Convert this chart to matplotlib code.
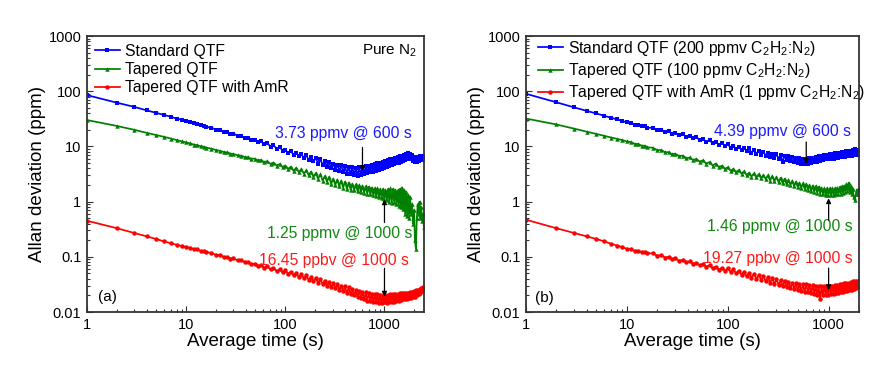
import matplotlib
matplotlib.use('Agg')
import matplotlib.pyplot as plt
from matplotlib.ticker import FixedLocator, FixedFormatter, LogLocator, NullFormatter

plt.rcParams['font.family'] = ['Liberation Sans', 'DejaVu Sans']
plt.rcParams['mathtext.fontset'] = 'custom'
plt.rcParams['mathtext.rm'] = 'Liberation Sans'
plt.rcParams['mathtext.it'] = 'Liberation Sans:italic'
plt.rcParams['mathtext.bf'] = 'Liberation Sans:bold'

# ---------------- data ----------------
tau_a = [1, 2, 3, 4, 5, 6, 7, 8, 9, 10,
         11, 12, 13, 14, 15, 16, 18, 20, 22, 24,
         26, 28, 30, 33, 36, 39, 42, 45, 49, 53,
         57, 61, 66, 71, 76, 82, 88, 94, 100, 107,
         114, 121, 129, 137, 145, 154, 163, 172, 182, 192,
         203, 214, 226, 238, 250, 263, 276, 290, 304, 319,
         334, 350, 366, 383, 400, 418, 436, 455, 474, 494,
         514, 535, 556, 578, 600, 623, 646, 670, 694, 719,
         744, 770, 796, 823, 850, 878, 906, 935, 964, 994,
         1024, 1055, 1086, 1118, 1150, 1183, 1216, 1250, 1284, 1319,
         1354, 1390, 1426, 1463, 1500, 1538, 1576, 1615, 1654, 1694,
         1734, 1775, 1816, 1858, 1900, 1943, 1986, 2030, 2074, 2119,
         2164, 2210, 2256, 2303, 2350, 2398, 2446, 2495]

std_a = [85, 62, 52, 45, 40.5, 37, 34.5, 32, 30.5, 29,
         27.8, 26.4, 25.8, 24.3, 23.9, 22.6, 21.8, 20.2, 19.9, 18.4,
         18.3, 16.9, 17.1, 15.6, 15.7, 14.2, 14.5, 13.0, 13.3, 11.9,
         12.4, 10.9, 11.5, 9.9, 10.6, 9.0, 9.8, 8.3, 8.6, 7.6,
         8.2, 7.0, 7.7, 6.6, 7.3, 6.1, 6.9, 5.7, 6.5, 5.4,
         6.1, 4.9, 5.8, 4.6, 5.5, 4.3, 5.2, 4.0, 4.9, 3.8,
         4.7, 3.6, 4.6, 3.4, 4.4, 3.2, 4.3, 3.1, 4.2, 3.0,
         4.1, 2.9, 4.2, 3.0, 4.3, 3.1, 4.4, 3.3, 4.5, 3.5,
         4.6, 3.5, 4.8, 3.6, 5.0, 3.8, 5.1, 3.9, 5.3, 4.1,
         5.4, 4.3, 5.6, 4.4, 5.8, 4.6, 6.0, 4.8, 6.2, 5.0,
         6.4, 5.1, 6.6, 5.3, 6.8, 5.5, 7.0, 5.7, 7.3, 5.9,
         7.5, 6.0, 7.3, 5.8, 6.9, 5.4, 6.4, 5.2, 6.3, 5.3,
         6.4, 5.5, 6.6, 5.6, 6.6, 5.7, 6.8, 6.0]

tap_a = [30, 23.5, 20, 17.6, 16.1, 14.9, 13.9, 13.1, 12.4, 11.8,
         11.3, 10.8, 10.5, 10.1, 9.9, 9.5, 9.1, 8.6, 8.3, 7.9,
         7.8, 7.4, 7.3, 6.9, 6.8, 6.4, 6.4, 6.0, 6.0, 5.6,
         5.7, 5.2, 5.4, 4.8, 5.1, 4.5, 4.8, 4.2, 4.5, 3.9,
         4.3, 3.6, 4.1, 3.4, 3.9, 3.2, 3.7, 3.0, 3.5, 2.8,
         3.3, 2.6, 3.1, 2.4, 2.9, 2.3, 2.8, 2.1, 2.6, 2.0,
         2.5, 1.9, 2.4, 1.8, 2.3, 1.7, 2.2, 1.65, 2.1, 1.6,
         2.05, 1.55, 2.0, 1.5, 1.95, 1.45, 1.9, 1.4, 1.85, 1.35,
         1.8, 1.3, 1.75, 1.25, 1.75, 1.2, 1.7, 1.15, 1.7, 1.1,
         1.65, 1.05, 1.7, 1.0, 1.75, 0.95, 1.7, 1.0, 1.65, 0.9,
         1.6, 0.85, 1.7, 0.8, 1.8, 0.75, 1.6, 0.6, 1.5, 0.55,
         1.3, 0.5, 1.2, 0.6, 0.9, 0.4, 0.7, 0.2, 0.14, 0.5,
         0.9, 0.6, 1.0, 0.5, 0.8, 0.45, 0.6, 0.35]

amr_a = [0.45, 0.33, 0.27, 0.235, 0.21, 0.19, 0.176, 0.165, 0.157, 0.15,
         0.146, 0.137, 0.136, 0.128, 0.128, 0.121, 0.118, 0.108, 0.108, 0.099,
         0.1, 0.093, 0.094, 0.086, 0.087, 0.08, 0.081, 0.074, 0.075, 0.069,
         0.071, 0.063, 0.067, 0.059, 0.063, 0.055, 0.059, 0.052, 0.057, 0.049,
         0.053, 0.046, 0.050, 0.043, 0.048, 0.041, 0.046, 0.038, 0.043, 0.036,
         0.041, 0.034, 0.039, 0.032, 0.037, 0.030, 0.035, 0.028, 0.033, 0.027,
         0.032, 0.025, 0.030, 0.024, 0.029, 0.022, 0.028, 0.021, 0.026, 0.020,
         0.025, 0.019, 0.024, 0.018, 0.023, 0.017, 0.023, 0.016, 0.022, 0.016,
         0.021, 0.015, 0.021, 0.015, 0.021, 0.0145, 0.02, 0.0145, 0.02, 0.015,
         0.02, 0.0145, 0.02, 0.015, 0.021, 0.0155, 0.021, 0.0155, 0.021, 0.016,
         0.021, 0.016, 0.022, 0.0165, 0.022, 0.017, 0.022, 0.017, 0.022, 0.0175,
         0.0225, 0.018, 0.023, 0.018, 0.023, 0.019, 0.024, 0.019, 0.025, 0.02,
         0.025, 0.021, 0.026, 0.022, 0.027, 0.024, 0.028, 0.027]

tau_b = [1, 2, 3, 4, 5, 6, 7, 8, 9, 10,
         11, 12, 13, 14, 15, 16, 18, 20, 22, 24,
         26, 28, 30, 33, 36, 39, 42, 45, 49, 53,
         57, 61, 66, 71, 76, 82, 88, 94, 100, 107,
         114, 121, 129, 137, 145, 154, 163, 172, 182, 192,
         203, 214, 226, 238, 250, 263, 276, 290, 304, 319,
         334, 350, 366, 383, 400, 418, 436, 455, 474, 494,
         514, 535, 556, 578, 600, 623, 646, 670, 694, 719,
         744, 770, 796, 823, 850, 878, 906, 935, 964, 994,
         1024, 1055, 1086, 1118, 1150, 1183, 1216, 1250, 1284, 1319,
         1354, 1390, 1426, 1463, 1500, 1538, 1576, 1615, 1654, 1694,
         1734, 1775, 1816, 1858, 1900, 1943, 1986]

std_b = [90, 63, 51, 44, 39.5, 35.8, 33, 30.8, 29, 27.2,
         26.6, 24.8, 24.9, 23.1, 23.4, 21.8, 21.7, 19.8, 20.0, 18.3,
         18.7, 17.1, 17.6, 16.0, 16.5, 14.9, 15.4, 14.0, 14.6, 13.0,
         13.7, 12.2, 12.9, 11.4, 12.2, 10.7, 11.5, 10.1, 10.9, 9.5,
         10.3, 9.0, 9.9, 8.7, 9.5, 8.2, 9.2, 7.6, 8.6, 7.4,
         8.3, 7.0, 8.0, 6.8, 7.7, 6.4, 7.3, 6.2, 7.2, 6.0,
         7.0, 5.2, 6.8, 5.7, 6.6, 5.5, 6.4, 5.3, 6.2, 5.0,
         6.2, 4.9, 6.0, 4.9, 6.0, 4.8, 6.1, 5.0, 6.2, 5.2,
         6.4, 5.3, 6.6, 5.4, 6.8, 5.6, 7.0, 5.8, 7.1, 5.9,
         7.3, 5.9, 7.4, 6.0, 7.5, 6.1, 7.6, 6.2, 7.7, 6.4,
         7.8, 6.4, 8.0, 6.5, 8.1, 6.6, 8.2, 6.7, 8.3, 6.8,
         8.5, 6.9, 8.8, 7.0, 8.6, 7.1, 8.2]

tap_b = [32, 25, 21, 18.5, 16.8, 15.5, 14.5, 13.7, 13.0, 12.3,
         12.0, 11.1, 11.1, 10.3, 10.3, 9.6, 9.5, 8.6, 8.6, 7.8,
         7.9, 7.2, 7.4, 6.7, 6.8, 6.1, 6.3, 5.7, 5.9, 5.3,
         5.6, 4.9, 5.2, 4.5, 4.9, 4.2, 4.5, 3.9, 4.2, 3.6,
         3.95, 3.4, 3.75, 3.2, 3.55, 3.0, 3.35, 2.85, 3.25, 2.75,
         3.15, 2.65, 3.05, 2.55, 3.0, 2.4, 2.9, 2.35, 2.8, 2.25,
         2.7, 2.15, 2.6, 2.05, 2.5, 2.0, 2.4, 1.9, 2.3, 1.85,
         2.2, 1.75, 2.15, 1.7, 2.1, 1.65, 2.0, 1.55, 1.95, 1.5,
         1.9, 1.45, 1.85, 1.4, 1.8, 1.35, 1.75, 1.3, 1.75, 1.3,
         1.75, 1.3, 1.75, 1.3, 1.75, 1.35, 1.8, 1.35, 1.85, 1.4,
         1.9, 1.45, 1.95, 1.5, 2.1, 1.55, 2.2, 1.5, 1.9, 1.4,
         1.7, 1.2, 1.05, 1.35, 1.65, 1.4, 1.7]

amr_b = [0.47, 0.33, 0.27, 0.235, 0.21, 0.19, 0.172, 0.16, 0.15, 0.14,
         0.138, 0.128, 0.13, 0.121, 0.124, 0.115, 0.116, 0.105, 0.107, 0.097,
         0.1, 0.091, 0.095, 0.085, 0.088, 0.079, 0.083, 0.075, 0.078, 0.07,
         0.074, 0.066, 0.07, 0.062, 0.066, 0.058, 0.064, 0.056, 0.062, 0.053,
         0.059, 0.05, 0.056, 0.047, 0.054, 0.044, 0.051, 0.042, 0.049, 0.04,
         0.047, 0.038, 0.045, 0.036, 0.043, 0.034, 0.041, 0.032, 0.039, 0.031,
         0.038, 0.029, 0.037, 0.028, 0.035, 0.027, 0.034, 0.026, 0.033, 0.025,
         0.032, 0.024, 0.032, 0.023, 0.032, 0.023, 0.031, 0.022, 0.031, 0.021,
         0.03, 0.02, 0.029, 0.017, 0.029, 0.02, 0.03, 0.02, 0.03, 0.02,
         0.03, 0.021, 0.03, 0.021, 0.031, 0.022, 0.031, 0.022, 0.032, 0.023,
         0.032, 0.023, 0.033, 0.024, 0.034, 0.024, 0.034, 0.025, 0.035, 0.025,
         0.036, 0.026, 0.036, 0.027, 0.037, 0.028, 0.037]

labels_a = ['Standard QTF', 'Tapered QTF', 'Tapered QTF with AmR']
labels_b = ['Standard QTF (200 ppmv C$_2$H$_2$:N$_2$)',
            'Tapered QTF (100 ppmv C$_2$H$_2$:N$_2$)',
            'Tapered QTF with AmR (1 ppmv C$_2$H$_2$:N$_2$)']

x_ticks = [1, 10, 100, 1000]
x_ticklabels = ['1', '10', '100', '1000']
y_ticks = [0.01, 0.1, 1, 10, 100, 1000]
y_ticklabels = ['0.01', '0.1', '1', '10', '100', '1000']

# annotations: (text, text_x, text_y, arrow_x, arrow_from_y, arrow_to_y, color)
notes_a = [('3.73 ppmv @ 600 s', 1870, 17.3, 600, 9.6, 3.6, 'blue'),
           ('1.25 ppmv @ 1000 s', 1900, 0.27, 1000, 0.42, 1.1, 'green'),
           ('16.45 ppbv @ 1000 s', 1780, 0.0875, 1000, 0.062, 0.019, 'red')]
notes_b = [('4.39 ppmv @ 600 s', 1650, 18.3, 600, 12.0, 4.8, 'blue'),
           ('1.46 ppmv @ 1000 s', 1730, 0.35, 1000, 0.46, 1.15, 'green'),
           ('19.27 ppbv @ 1000 s', 1730, 0.095, 1000, 0.0625, 0.025, 'red')]

# ---------------- plotting ----------------
colors = {'blue': '#0000FF', 'green': '#008000', 'red': '#FF0000'}
text_colors = {'blue': '#1A1AFF', 'green': '#0F8A0F', 'red': '#FF1A1A'}
markers = ['s', '^', 'o']

fig = plt.figure(figsize=(8.75, 3.82), dpi=100)
axA = fig.add_axes([0.0994, 0.1832, 0.3851, 0.7225])
axB = fig.add_axes([0.6011, 0.1832, 0.3806, 0.7225])


def style(ax, xmax):
    ax.set_xscale('log')
    ax.set_yscale('log')
    ax.set_xlim(1, xmax)
    ax.set_ylim(0.01, 1000)
    ax.xaxis.set_major_locator(FixedLocator(x_ticks))
    ax.xaxis.set_major_formatter(FixedFormatter(x_ticklabels))
    ax.yaxis.set_major_locator(FixedLocator(y_ticks))
    ax.yaxis.set_major_formatter(FixedFormatter(y_ticklabels))
    ax.xaxis.set_minor_locator(LogLocator(base=10, subs=range(2, 10), numticks=20))
    ax.yaxis.set_minor_locator(LogLocator(base=10, subs=range(2, 10), numticks=20))
    ax.xaxis.set_minor_formatter(NullFormatter())
    ax.yaxis.set_minor_formatter(NullFormatter())
    ax.tick_params(which='both', direction='in', top=False, right=False,
                   color='#333333', width=0.8, labelsize=10.5)
    ax.tick_params(which='major', length=4, pad=4)
    ax.tick_params(which='minor', length=2)
    for s in ax.spines.values():
        s.set_linewidth(1.3)
        s.set_color('#333333')
    ax.set_xlabel('Average time (s)', fontsize=13.5, labelpad=1)
    ax.set_ylabel('Allan deviation (ppm)', fontsize=13.5, labelpad=2)


def draw(ax, tau, series, labels, notes, xmax, bbox):
    for vals, lab, col, mk in zip(series, labels, ['blue', 'green', 'red'], markers):
        ax.plot(tau, vals, '-', marker=mk, color=colors[col], lw=1.25,
                ms=3.2, mew=0, label=lab)
    style(ax, xmax)
    ax.legend(loc='upper left', bbox_to_anchor=bbox, frameon=False,
              fontsize=11.3, handlelength=1.6, handletextpad=0.35,
              labelspacing=0.2, borderpad=0.3, borderaxespad=0.2)
    for txt, tx, ty, axx, y0, y1, col in notes:
        ax.text(tx, ty, txt, color=text_colors[col], fontsize=11.3,
                ha='right', va='center')
        ax.annotate('', xy=(axx, y1), xytext=(axx, y0),
                    arrowprops=dict(arrowstyle='-|>', color='black', lw=0.9,
                                    mutation_scale=7, shrinkA=0, shrinkB=0))


draw(axA, tau_a, [std_a, tap_a, amr_a], labels_a, notes_a, 2500, (0, 1))
draw(axB, tau_b, [std_b, tap_b, amr_b], labels_b, notes_b, 2000, (0.012, 1.018))

axA.text(0.979, 0.945, 'Pure N$_2$', transform=axA.transAxes, ha='right',
         va='center', fontsize=11)
axA.text(0.033, 0.054, '(a)', transform=axA.transAxes, ha='left',
         va='center', fontsize=11)
axB.text(0.027, 0.051, '(b)', transform=axB.transAxes, ha='left',
         va='center', fontsize=11)

fig.savefig('out.png', dpi=100)
